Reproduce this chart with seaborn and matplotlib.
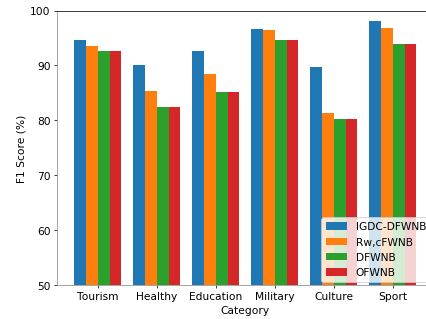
import numpy as np
import matplotlib
matplotlib.use("Agg")
import matplotlib.pyplot as plt
import pandas as pd
import seaborn as sns

categories = ["Tourism", "Healthy", "Education", "Military", "Culture", "Sport"]
methods = ["IGDC-DFWNB", "Rw,cFWNB", "DFWNB", "OFWNB"]
igdc = [94.6, 90.0, 92.7, 96.7, 89.8, 98.1]
rwc = [93.5, 85.4, 88.5, 96.5, 81.4, 96.8]
dfwnb = [92.7, 82.5, 85.1, 94.6, 80.2, 93.9]
ofwnb = [92.7, 82.5, 85.1, 94.6, 80.2, 93.9]
colors = ["#1f77b4", "#ff7f0e", "#2ca02c", "#d62728"]

rows = []
for name, vals in zip(methods, [igdc, rwc, dfwnb, ofwnb]):
    for cat, v in zip(categories, vals):
        rows.append({"Category": cat, "Method": name, "Score": v})
data = pd.DataFrame(rows)

plt.rcParams["font.size"] = 11.5
fig = plt.figure(figsize=(6.4, 4.8), dpi=66.6)
ax = fig.add_axes([0.134, 0.106, 0.883, 0.859])
sns.barplot(data=data, x="Category", y="Score", hue="Method", palette=colors,
            saturation=1, width=0.8, linewidth=0, ax=ax)
ax.set_xlim(-0.69, 5.69)
ax.set_ylim(50, 100)
ax.set_yticks([50, 60, 70, 80, 90, 100])
ax.set_xlabel("Category")
ax.set_ylabel("F1 Score (%)")
ax.spines["left"].set_color("#888888")
ax.spines["bottom"].set_color("#888888")
ax.spines["right"].set_visible(False)
ax.legend(loc="lower right", borderaxespad=0.3)
fig.savefig("out.png", dpi=66.6)
